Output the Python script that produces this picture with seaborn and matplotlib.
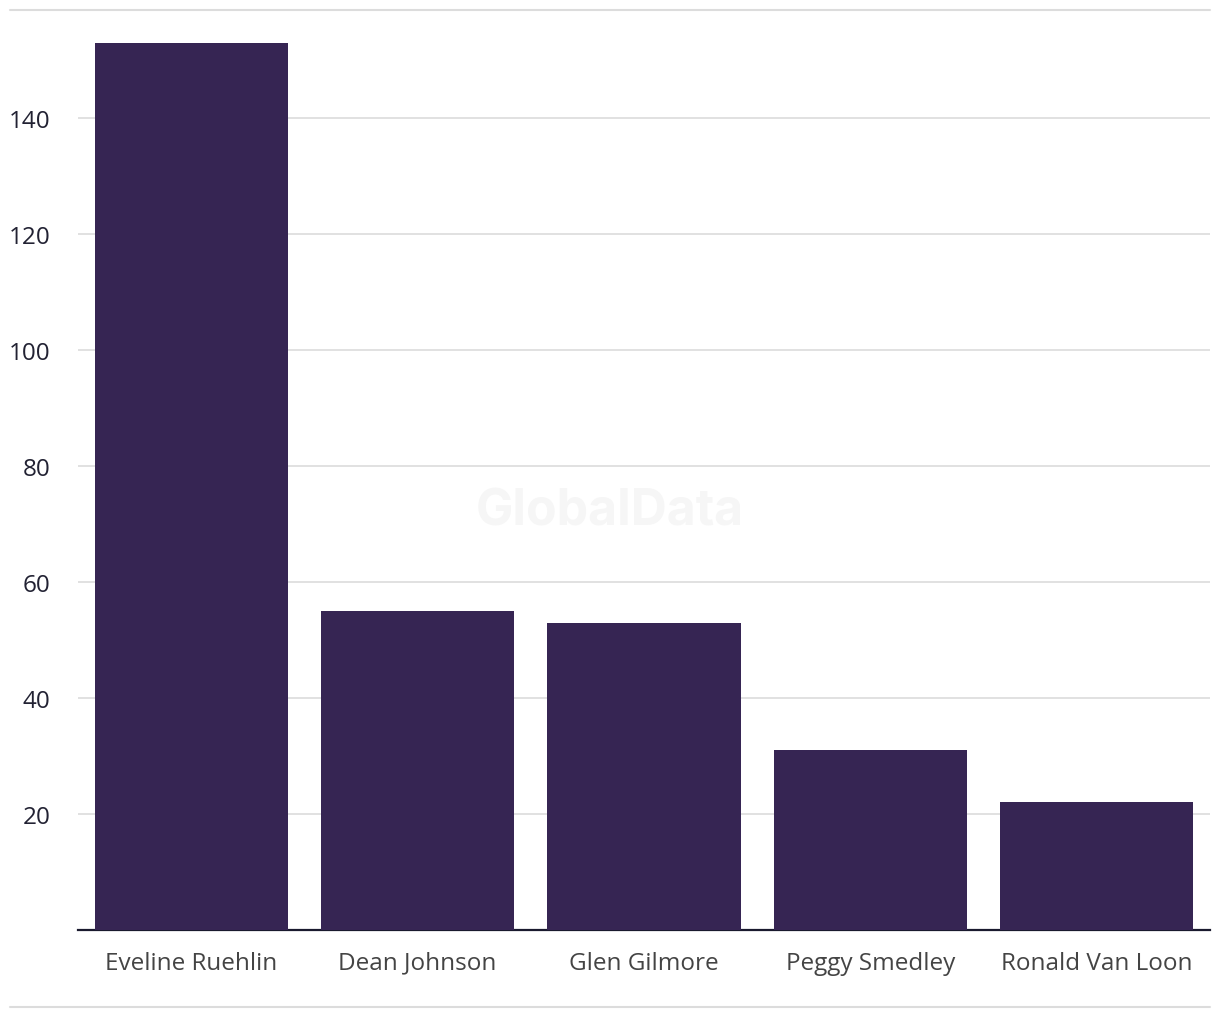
import matplotlib
matplotlib.use("Agg")
import matplotlib.pyplot as plt
import seaborn as sns
import pandas as pd
from matplotlib.lines import Line2D

names = ["Eveline Ruehlin", "Dean Johnson", "Glen Gilmore", "Peggy Smedley", "Ronald Van Loon"]
values = [153, 55, 53, 31, 22]
yticks = [20, 40, 60, 80, 100, 120, 140]

sns.set_theme(style="white")
plt.rcParams['font.family'] = ['Open Sans', 'DejaVu Sans']

df = pd.DataFrame({"name": names, "value": values})

fig = plt.figure(figsize=(12.2, 10.2), dpi=100)
ax = fig.add_axes([78/1220, (1020-931)/1020, (1210-78)/1220, (929-1)/1020])

sns.barplot(data=df, x="name", y="value", color="#362553", saturation=1, width=0.854,
            linewidth=0, edgecolor="none", ax=ax, zorder=3)

ax.set_ylim(0, 160)
ax.set_xlim(-0.5, len(names)-0.5)
ax.set_yticks(yticks)
ax.set_yticklabels([str(t) for t in yticks], fontsize=17.5, color="#222233")
ax.tick_params(axis='y', length=0, pad=20)
ax.tick_params(axis='x', length=0, pad=15, labelsize=17.5, labelcolor="#444444")
for lab in ax.get_xticklabels():
    lab.set_color("#444444")
ax.yaxis.grid(True, color="#dcdcdc", linewidth=1.2, zorder=0)
ax.set_axisbelow(True)
for s in ["top", "right", "left"]:
    ax.spines[s].set_visible(False)
ax.spines["bottom"].set_color("#1a1a2e")
ax.spines["bottom"].set_linewidth(1.6)
ax.set_xlabel("")
ax.set_ylabel("")

fig.text(610/1220, 1-512/1020, "GlobalData", ha="center", va="center", fontsize=36,
         fontweight="bold", color="#f6f6f6", zorder=0, family=["Inter", "DejaVu Sans"])

fig.add_artist(Line2D([10/1220, 1210/1220], [1-11/1020, 1-11/1020], color="#dcdcdc", linewidth=1.5))
fig.add_artist(Line2D([10/1220, 1210/1220], [1-1008/1020, 1-1008/1020], color="#dcdcdc", linewidth=1.5))

fig.savefig("out.png", dpi=100, facecolor="white")
